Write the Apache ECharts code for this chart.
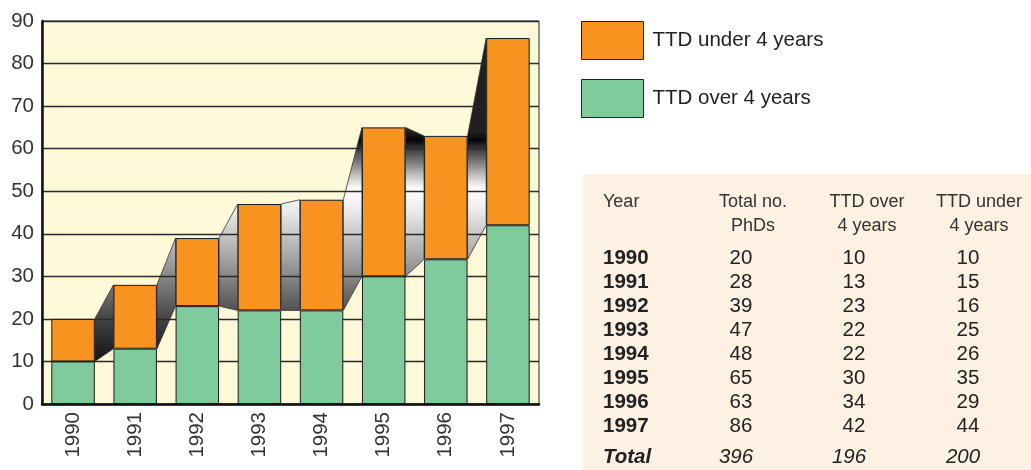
<!DOCTYPE html>
<html>
<head>
<meta charset="utf-8">
<script src="https://cdn.jsdelivr.net/npm/echarts@6/dist/echarts.min.js"></script>
<style>html,body{margin:0;padding:0;background:#fff;}#c{width:1031px;height:470px;}</style>
</head>
<body>
<div id="c"></div>
<script>
var years = ['1990','1991','1992','1993','1994','1995','1996','1997'];
var overFour = [10, 13, 23, 22, 22, 30, 34, 42];
var underFour = [10, 15, 16, 25, 26, 35, 29, 44];
var totalPhDs = [20, 28, 39, 47, 48, 65, 63, 86];
var yTicks = {min: 0, max: 90, interval: 10};
var tableHeaders = [['Year', ''], ['Total no.', 'PhDs'], ['TTD over', '4 years'], ['TTD under', '4 years']];
var totalLabel = 'Total';

var FONT = '"Liberation Sans", Arial, Helvetica, sans-serif';
var ORANGE = '#f7931e', GREEN = '#80cb9b';

// ribbon data built from the arrays
var ribbonData = [];
for (var i = 0; i < years.length - 1; i++) {
  ribbonData.push([i, overFour[i], totalPhDs[i], overFour[i + 1], totalPhDs[i + 1]]);
}

// shade stops by value
var shadeStops = [
  [90, '#231f20'], [64, '#231f20'], [62, '#050505'], [60, '#3a3a3a'], [57, '#777777'],
  [54, '#bbbbbb'], [51, '#f8f8f8'], [50, '#ffffff'], [45, '#e8e8e8'], [40, '#c8c8c8'],
  [35, '#a8a8a8'], [30, '#888888'], [25, '#666666'], [20, '#444444'], [15, '#2a2a2a'],
  [10, '#151515'], [0, '#000000']
];

function renderRibbon(params, api) {
  var i = api.value(0);
  var bw = api.size([1, 0])[0] * 0.7;
  var x0 = api.coord([i, 0])[0] + bw / 2;
  var x1 = api.coord([i + 1, 0])[0] - bw / 2;
  var yTop = api.coord([0, yTicks.max])[1];
  var yBot = api.coord([0, yTicks.min])[1];
  var pts = [
    [x0, api.coord([i, api.value(2)])[1]],
    [x1, api.coord([i + 1, api.value(4)])[1]],
    [x1, api.coord([i + 1, api.value(3)])[1]],
    [x0, api.coord([i, api.value(1)])[1]]
  ];
  var stops = shadeStops.map(function (s) {
    return {offset: (yTicks.max - s[0]) / (yTicks.max - yTicks.min), color: s[1]};
  });
  return {
    type: 'polygon',
    shape: {points: pts},
    style: {
      fill: {type: 'linear', x: 0, y: yTop, x2: 0, y2: yBot, global: true, colorStops: stops},
      stroke: '#333', lineWidth: 0.8
    }
  };
}

// table graphics
var tg = [];
var tX = 583, tY = 174;
tg.push({type: 'rect', left: tX, top: tY, z: -1, shape: {width: 1031 - tX, height: 470 - tY}, style: {fill: '#fcf1e2'}});
var colX = [603, 753, 867, 979];
var dataX = [603, 741, 854, 968];
var totX = [603, 736, 849, 963];
tableHeaders.forEach(function (h, c) {
  [0, 1].forEach(function (r) {
    if (!h[r]) return;
    tg.push({type: 'text', x: colX[c], y: 202 + r * 24, style: {
      text: h[r], font: '18px ' + FONT, fill: '#333', align: c === 0 ? 'left' : 'center', verticalAlign: 'middle'}});
  });
});
var cols = [years, totalPhDs, overFour, underFour];
years.forEach(function (y, r) {
  cols.forEach(function (col, c) {
    tg.push({type: 'text', x: dataX[c], y: 258 + r * 24, style: {
      text: String(col[r]), font: (c === 0 ? 'bold ' : '') + '20.5px ' + FONT, fill: '#222',
      align: c === 0 ? 'left' : 'center', verticalAlign: 'middle'}});
  });
});
var sums = [totalPhDs, overFour, underFour].map(function (a) { return a.reduce(function (s, v) { return s + v; }, 0); });
[totalLabel].concat(sums).forEach(function (t, c) {
  tg.push({type: 'text', x: totX[c], y: 457, style: {
    text: String(t), font: 'italic ' + (c === 0 ? 'bold ' : '') + '20.5px ' + FONT, fill: '#222',
    align: c === 0 ? 'left' : 'center', verticalAlign: 'middle'}});
});

var chart = echarts.init(document.getElementById('c'), null, {renderer: 'canvas'});
chart.setOption({
  animation: false,
  backgroundColor: '#ffffff',
  textStyle: {fontFamily: FONT},
  grid: {left: 42, right: 492, top: 21, bottom: 66, show: true, backgroundColor: '#fef9d8',
         borderColor: '#222', borderWidth: 1, z: 0},
  legend: {
    data: ['TTD under 4 years', 'TTD over 4 years'],
    orient: 'vertical', left: 581, top: 21, padding: 0,
    itemWidth: 62, itemHeight: 38, itemGap: 19,
    icon: 'rect',
    itemStyle: {borderColor: '#222', borderWidth: 1},
    textStyle: {fontSize: 20.5, color: '#222', fontFamily: FONT, padding: [0, 0, 0, 4]}
  },
  xAxis: {
    type: 'category', data: years, z: 4,
    axisLine: {lineStyle: {color: '#111', width: 2.5}},
    axisTick: {show: false},
    axisLabel: {rotate: 90, fontSize: 20.5, color: '#333', margin: 8, fontFamily: FONT}
  },
  yAxis: {
    type: 'value', min: yTicks.min, max: yTicks.max, interval: yTicks.interval, z: 2,
    axisLine: {show: true, lineStyle: {color: '#111', width: 2.5}},
    axisTick: {show: false},
    splitLine: {lineStyle: {color: '#2a2a2a', width: 1.3}},
    axisLabel: {fontSize: 20.5, color: '#333', margin: 8, fontFamily: FONT}
  },
  series: [
    {type: 'custom', name: 'shade', renderItem: renderRibbon, data: ribbonData, z: 1,
     encode: {x: 0, y: [1, 2, 3, 4]}, silent: true},
    {type: 'bar', name: 'TTD over 4 years', stack: 'a', data: overFour, barWidth: '70%', z: 3,
     itemStyle: {color: GREEN, borderColor: '#1a1a1a', borderWidth: 1}},
    {type: 'bar', name: 'TTD under 4 years', stack: 'a', data: underFour, barWidth: '70%', z: 3,
     itemStyle: {color: ORANGE, borderColor: '#1a1a1a', borderWidth: 1}}
  ],
  graphic: tg
});
</script>
</body>
</html>
